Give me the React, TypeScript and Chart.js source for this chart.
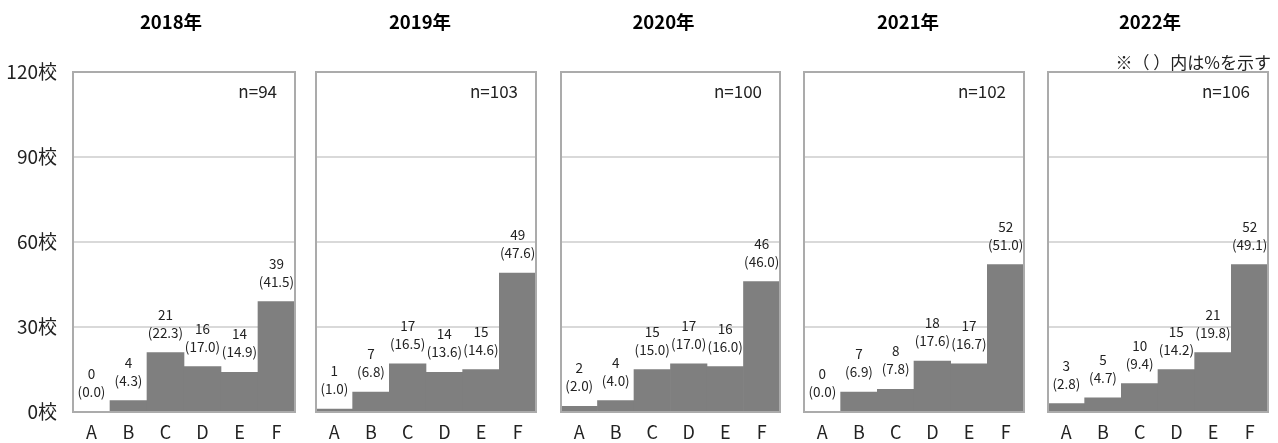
import React, { useEffect, useRef } from "react";
import { Chart, registerables } from "chart.js";

Chart.register(...registerables);

const categories = ["A", "B", "C", "D", "E", "F"];
const years = ["2018年", "2019年", "2020年", "2021年", "2022年"];
const sampleSizes = [94, 103, 100, 102, 106];
const counts2018 = [0, 4, 21, 16, 14, 39];
const counts2019 = [1, 7, 17, 14, 15, 49];
const counts2020 = [2, 4, 15, 17, 16, 46];
const counts2021 = [0, 7, 8, 18, 17, 52];
const counts2022 = [3, 5, 10, 15, 21, 52];
const pct2018 = [0.0, 4.3, 22.3, 17.0, 14.9, 41.5];
const pct2019 = [1.0, 6.8, 16.5, 13.6, 14.6, 47.6];
const pct2020 = [2.0, 4.0, 15.0, 17.0, 16.0, 46.0];
const pct2021 = [0.0, 6.9, 7.8, 17.6, 16.7, 51.0];
const pct2022 = [2.8, 4.7, 9.4, 14.2, 19.8, 49.1];
const yTicks = [0, 30, 60, 90, 120];
const noteText = "※（ ）内は%を示す";

const allCounts = [counts2018, counts2019, counts2020, counts2021, counts2022];
const allPct = [pct2018, pct2019, pct2020, pct2021, pct2022];

// layout (pixels)
const PLOT_LEFT = [73, 316, 561, 804, 1048];
const PLOT_RIGHT = [295, 536, 780, 1024, 1268];
const TITLE_OFFSET = [-13, -6, -7, -6, -8];
const PLOT_TOP = 72;
const PLOT_BOTTOM = 412;
const H = 443;
const PAD_R = 3;
const FONT = "'Noto Sans CJK JP', 'Noto Sans', sans-serif";

function Panel({ idx }: { idx: number }) {
  const ref = useRef<HTMLCanvasElement | null>(null);
  const yW = idx === 0 ? PLOT_LEFT[0] : 4;
  const plotW = PLOT_RIGHT[idx] - PLOT_LEFT[idx];
  const width = yW + plotW + PAD_R;
  const left = PLOT_LEFT[idx] - yW;

  useEffect(() => {
    if (!ref.current) return;
    const counts = allCounts[idx];
    const pcts = allPct[idx];
    const labelPlugin = {
      id: "panelDecor",
      afterDatasetsDraw(chart: any) {
        const ctx = chart.ctx;
        const area = chart.chartArea;
        ctx.save();
        // border
        ctx.strokeStyle = "#ababab";
        ctx.lineWidth = 2;
        ctx.strokeRect(area.left, area.top, area.right - area.left, area.bottom - area.top);
        // data labels
        const meta = chart.getDatasetMeta(0);
        ctx.fillStyle = "#222";
        ctx.font = "13.5px " + FONT;
        ctx.textAlign = "center";
        ctx.textBaseline = "middle";
        meta.data.forEach((bar: any, i: number) => {
          const top = bar.y;
          ctx.fillText("(" + pcts[i].toFixed(1) + ")", bar.x, top - 20);
          ctx.fillText(String(counts[i]), bar.x, top - 38);
        });
        // n label
        ctx.font = "17px " + FONT;
        ctx.textAlign = "right";
        ctx.fillText("n=" + sampleSizes[idx], area.right - 18, 92);
        // title
        ctx.font = "bold 18.5px " + FONT;
        ctx.textAlign = "center";
        ctx.fillStyle = "#000";
        ctx.fillText(years[idx], (area.left + area.right) / 2 + TITLE_OFFSET[idx], 22);
        ctx.restore();
      },
    };
    const chart = new Chart(ref.current, {
      type: "bar",
      data: {
        labels: categories,
        datasets: [
          {
            data: counts,
            backgroundColor: "#7f7f7f",
            borderWidth: 0,
            categoryPercentage: 1,
            barPercentage: 1,
          },
        ],
      },
      options: {
        animation: false,
        responsive: false,
        maintainAspectRatio: false,
        layout: { padding: { top: PLOT_TOP, right: PAD_R, bottom: 0, left: 0 } },
        plugins: { legend: { display: false }, tooltip: { enabled: false }, title: { display: false } },
        scales: {
          x: {
            grid: { display: false, drawTicks: false },
            border: { display: false },
            ticks: { color: "#222", font: { size: 18, family: FONT }, padding: 9, maxRotation: 0 },
            afterFit: (scale: any) => {
              scale.height = H - PLOT_BOTTOM;
            },
          },
          y: {
            min: 0,
            max: 120,
            afterBuildTicks: (scale: any) => {
              scale.ticks = yTicks.map((v) => ({ value: v }));
            },
            grid: { color: "#d9d9d9", lineWidth: 2, drawTicks: false },
            border: { display: false },
            ticks: {
              display: idx === 0,
              color: "#222",
              font: { size: 19, family: FONT },
              padding: 16,
              callback: (v: any) => v + "校",
            },
            afterFit: (scale: any) => {
              scale.width = yW;
            },
          },
        },
      },
      plugins: [labelPlugin],
    });
    return () => chart.destroy();
  }, [idx]);

  return (
    <canvas
      ref={ref}
      width={width}
      height={H}
      style={{ position: "absolute", left, top: 0, width, height: H }}
    />
  );
}

export default function App() {
  return (
    <div
      style={{
        position: "fixed",
        left: 0,
        top: 0,
        width: 1278,
        height: H,
        background: "#fff",
        fontFamily: FONT,
      }}
    >
      {years.map((_, i) => (
        <Panel key={i} idx={i} />
      ))}
      <div
        style={{
          position: "absolute",
          right: 7,
          top: 52,
          fontSize: 17,
          lineHeight: "20px",
          color: "#222",
          whiteSpace: "nowrap",
        }}
      >
        {noteText}
      </div>
    </div>
  );
}
